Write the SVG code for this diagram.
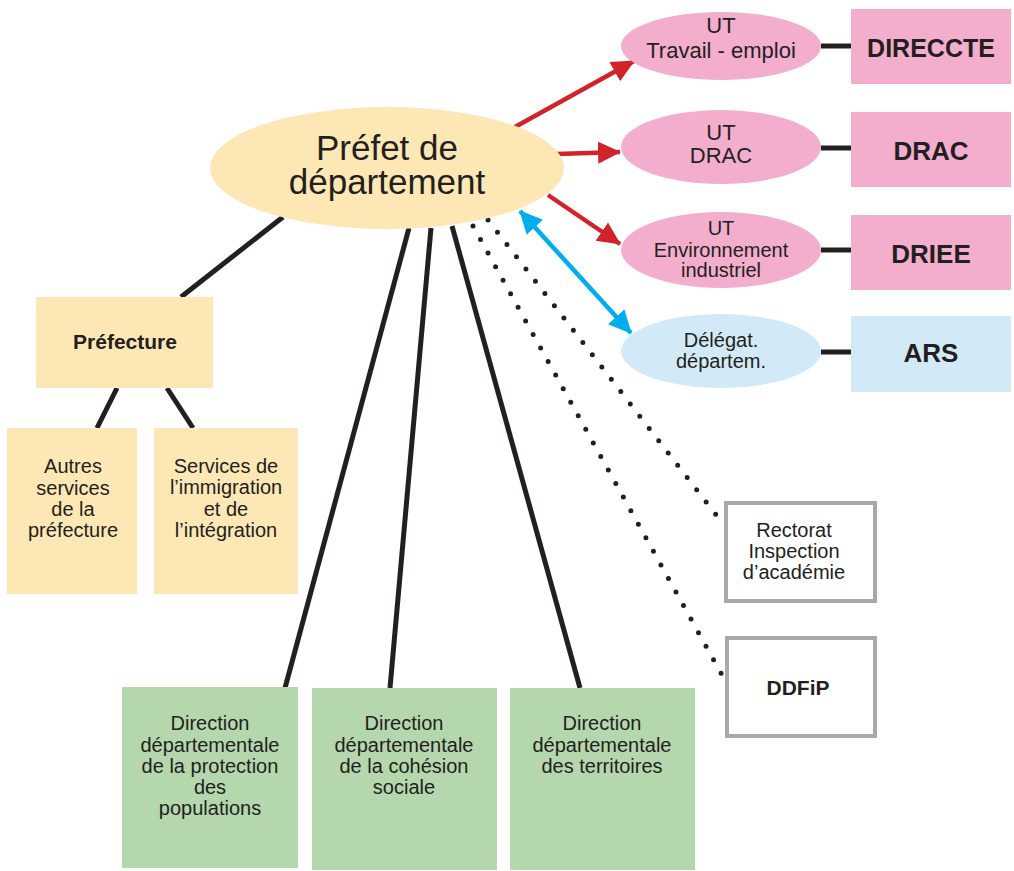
<svg xmlns="http://www.w3.org/2000/svg" width="1014" height="871" viewBox="0 0 1014 871">
<style>
text{font-family:"Liberation Sans",Arial,sans-serif;fill:#231F20;text-anchor:middle}
.b{font-weight:bold}
.ln{stroke:#231F20;stroke-width:5;fill:none}
.dot{stroke:#231F20;stroke-width:5;stroke-linecap:round;stroke-dasharray:0 15.5;fill:none}
.red{stroke:#D2232A;stroke-width:4.5;fill:none}
.blue{stroke:#00AEEF;stroke-width:4.5;fill:none}
.yel{fill:#FDE8B5}
.grn{fill:#B5D7AD}
.pnk{fill:#F3ADCD}
.lbl{fill:#D2EAF8}
.gry{fill:#FFFFFF;stroke:#A7A9AC;stroke-width:4}
</style>
<defs>
<marker id="ar" markerUnits="userSpaceOnUse" markerWidth="24" markerHeight="24" refX="22" refY="12" orient="auto"><path d="M0,1 L23,12 L0,23 Z" fill="#D2232A"/></marker>
<marker id="ab" markerUnits="userSpaceOnUse" markerWidth="24" markerHeight="24" refX="22" refY="12" orient="auto-start-reverse"><path d="M0,1 L23,12 L0,23 Z" fill="#00AEEF"/></marker>
</defs>
<rect width="1014" height="871" fill="#FFFFFF"/>
<g id="connectors">
<line class="ln" x1="283" y1="217" x2="181" y2="297"/>
<line class="ln" x1="117" y1="388" x2="97" y2="428"/>
<line class="ln" x1="167" y1="388" x2="193" y2="428"/>
<line class="ln" x1="409" y1="228" x2="285" y2="688"/>
<line class="ln" x1="431" y1="228" x2="390" y2="688"/>
<line class="ln" x1="452" y1="226" x2="580" y2="688"/>
<line class="dot" x1="473" y1="226" x2="722" y2="675"/>
<line class="dot" x1="488" y1="220" x2="724" y2="525"/>
<line class="ln" x1="821" y1="46" x2="851" y2="46"/>
<line class="ln" x1="821" y1="148" x2="851" y2="148"/>
<line class="ln" x1="821" y1="250" x2="851" y2="250"/>
<line class="ln" x1="821" y1="352" x2="851" y2="352"/>
<line class="red" x1="515" y1="127" x2="634" y2="61" marker-end="url(#ar)"/>
<line class="red" x1="557" y1="154" x2="620" y2="152" marker-end="url(#ar)"/>
<line class="red" x1="548" y1="195" x2="620" y2="244" marker-end="url(#ar)"/>
<line class="blue" x1="520" y1="211" x2="631" y2="333" marker-start="url(#ab)" marker-end="url(#ab)"/>
</g>
<g id="prefet">
<ellipse class="yel" cx="387" cy="168" rx="177" ry="61"/>
<text x="387" y="160" font-size="35">Préfet de</text>
<text x="387" y="194" font-size="35">département</text>
</g>
<g id="ut-travail">
<ellipse class="pnk" cx="721" cy="46" rx="100" ry="34"/>
<text x="721" y="33" font-size="22">UT</text>
<text x="721" y="58" font-size="22">Travail - emploi</text>
</g>
<g id="ut-drac">
<ellipse class="pnk" cx="721" cy="147" rx="100" ry="37"/>
<text x="721" y="140" font-size="22">UT</text>
<text x="721" y="163" font-size="22">DRAC</text>
</g>
<g id="ut-env">
<ellipse class="pnk" cx="721" cy="250" rx="100" ry="38"/>
<text x="721" y="235" font-size="20">UT</text>
<text x="721" y="257" font-size="20">Environnement</text>
<text x="721" y="277" font-size="20">industriel</text>
</g>
<g id="delegat">
<ellipse class="lbl" cx="721" cy="351" rx="100" ry="37"/>
<text x="721" y="347" font-size="20">Délégat.</text>
<text x="721" y="368" font-size="20">départem.</text>
</g>
<g id="direccte">
<rect class="pnk" x="851" y="9" width="160" height="75"/>
<text class="b" x="931" y="57" font-size="25">DIRECCTE</text>
</g>
<g id="drac">
<rect class="pnk" x="851" y="112" width="160" height="75"/>
<text class="b" x="931" y="160" font-size="26">DRAC</text>
</g>
<g id="driee">
<rect class="pnk" x="851" y="215" width="160" height="75"/>
<text class="b" x="931" y="263" font-size="26">DRIEE</text>
</g>
<g id="ars">
<rect class="lbl" x="851" y="316" width="160" height="76"/>
<text class="b" x="931" y="362" font-size="26">ARS</text>
</g>
<g id="prefecture">
<rect class="yel" x="36" y="297" width="177" height="91"/>
<text class="b" x="125" y="349" font-size="21">Préfecture</text>
</g>
<g id="autres">
<rect class="yel" x="7" y="428" width="130" height="166"/>
<text x="73" y="473" font-size="20">Autres</text>
<text x="73" y="495" font-size="20">services</text>
<text x="73" y="516" font-size="20">de la</text>
<text x="73" y="537" font-size="20">préfecture</text>
</g>
<g id="immigration">
<rect class="yel" x="154" y="428" width="144" height="166"/>
<text x="226" y="473" font-size="20">Services de</text>
<text x="226" y="494" font-size="20">l’immigration</text>
<text x="226" y="516" font-size="20">et de</text>
<text x="226" y="537" font-size="20">l’intégration</text>
</g>
<g id="ddpp">
<rect class="grn" x="122" y="687" width="176" height="181"/>
<text x="210" y="730" font-size="20">Direction</text>
<text x="210" y="752" font-size="20">départementale</text>
<text x="210" y="773" font-size="20">de la protection</text>
<text x="210" y="794" font-size="20">des</text>
<text x="210" y="815" font-size="20">populations</text>
</g>
<g id="ddcs">
<rect class="grn" x="312" y="688" width="185" height="182"/>
<text x="404" y="730" font-size="20">Direction</text>
<text x="404" y="752" font-size="20">départementale</text>
<text x="404" y="773" font-size="20">de la cohésion</text>
<text x="404" y="794" font-size="20">sociale</text>
</g>
<g id="ddt">
<rect class="grn" x="510" y="688" width="185" height="182"/>
<text x="602" y="730" font-size="20">Direction</text>
<text x="602" y="752" font-size="20">départementale</text>
<text x="602" y="773" font-size="20">des territoires</text>
</g>
<g id="rectorat">
<rect class="gry" x="726" y="503" width="149" height="98"/>
<text x="794" y="537" font-size="20">Rectorat</text>
<text x="794" y="558" font-size="20">Inspection</text>
<text x="794" y="579" font-size="20">d’académie</text>
</g>
<g id="ddfip">
<rect class="gry" x="727" y="638" width="148" height="98"/>
<text class="b" x="798" y="695" font-size="21">DDFiP</text>
</g>
</svg>
